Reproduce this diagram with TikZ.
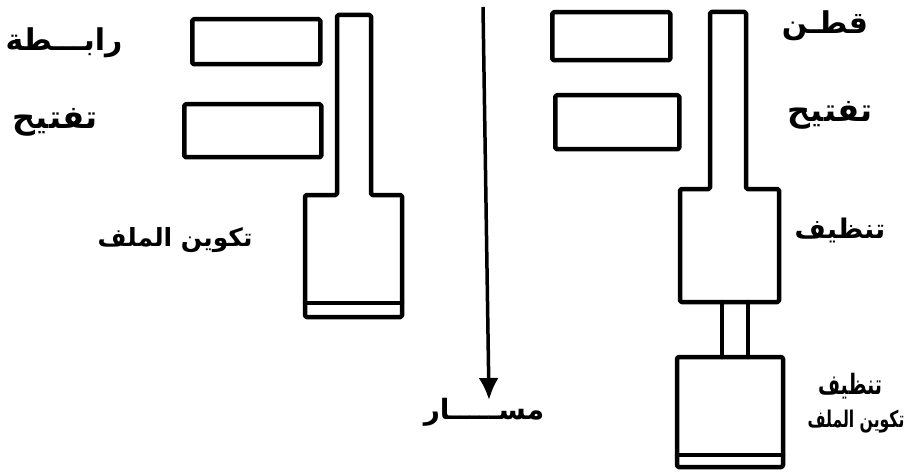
\documentclass[tikz,border=0pt]{standalone}
\usepackage{fontspec}
\usetikzlibrary{arrows.meta}
\newfontfamily\arabicfont[Script=Arabic]{DejaVu Sans}
\newfontfamily\arabicnarrow[Script=Arabic,FakeStretch=0.68]{DejaVu Sans}
\TeXXeTstate=1
\newcommand{\fsz}[1]{\fontsize{#1}{#1}\selectfont}
\tikzset{
  thick line/.style={line width=4.5pt, line join=round, line cap=round, rounded corners=1.5pt},
  boxnode/.style={thick line, draw, rectangle, inner sep=0pt, anchor=north west},
  lbl/.style={font=\arabicfont\bfseries, inner sep=0pt, align=center},
}
\begin{document}
\begin{tikzpicture}[x=1pt,y=-1pt]
\useasboundingbox (0,0) rectangle (909,473);

% left side boxes
\node[boxnode, minimum width=128pt, minimum height=45pt] (L1) at (190,17) {};
\node[boxnode, minimum width=137pt, minimum height=53pt] (L2) at (182,102) {};
% left column
\draw[thick line] (337,15) -- (371,15) -- (371,195) -- (402,195) -- (402,317) -- (305,317) -- (305,195) -- (337,195) -- cycle;
\draw[thick line] (305,303) -- (402,303);

% right side boxes
\node[boxnode, minimum width=118pt, minimum height=48pt] (R1) at (550,10) {};
\node[boxnode, minimum width=124pt, minimum height=54pt] (R2) at (553,93) {};
% right column
\draw[thick line] (710,12) -- (746,12) -- (746,189) -- (779,189) -- (779,302) -- (680,302) -- (680,189) -- (710,189) -- cycle;
\draw[thick line] (722,302) -- (722,357);
\draw[thick line] (748,302) -- (748,357);
\draw[thick line] (677,357) rectangle (783,467);
\draw[thick line] (677,455) -- (783,455);

% arrow
\coordinate (atop) at (483,7);
\coordinate (abot) at (489,400);
\draw[line width=3.5pt, -{Latex[length=22pt,width=20pt]}] (atop) -- (abot);

% labels
\node[lbl] (t1) at (64,43) {\fsz{30}\beginR رابـــطة\endR};
\node[lbl] (t2) at (55,122) {\fsz{32}\beginR تفتيح\endR};
\node[lbl] (t3) at (175,240) {\fsz{25}\beginR تكوين الملف\endR};
\node[lbl] (t4) at (825,26) {\fsz{30}\beginR قطـن\endR};
\node[lbl] (t5) at (830,115) {\fsz{32}\beginR تفتيح\endR};
\node[lbl] (t6) at (840,230) {\fsz{27}\beginR تنظيف\endR};
\node[lbl, font=\arabicnarrow\bfseries\fsz{28}] (t7a) at (850,386) {\beginR تنظيف\endR};
\node[lbl, font=\arabicnarrow\bfseries\fsz{23}] (t7b) at (856,422) {\beginR تكوين الملف\endR};
\node[lbl] (t8) at (484,412) {\fsz{28}\beginR مســـــار\endR};
\end{tikzpicture}
\end{document}
